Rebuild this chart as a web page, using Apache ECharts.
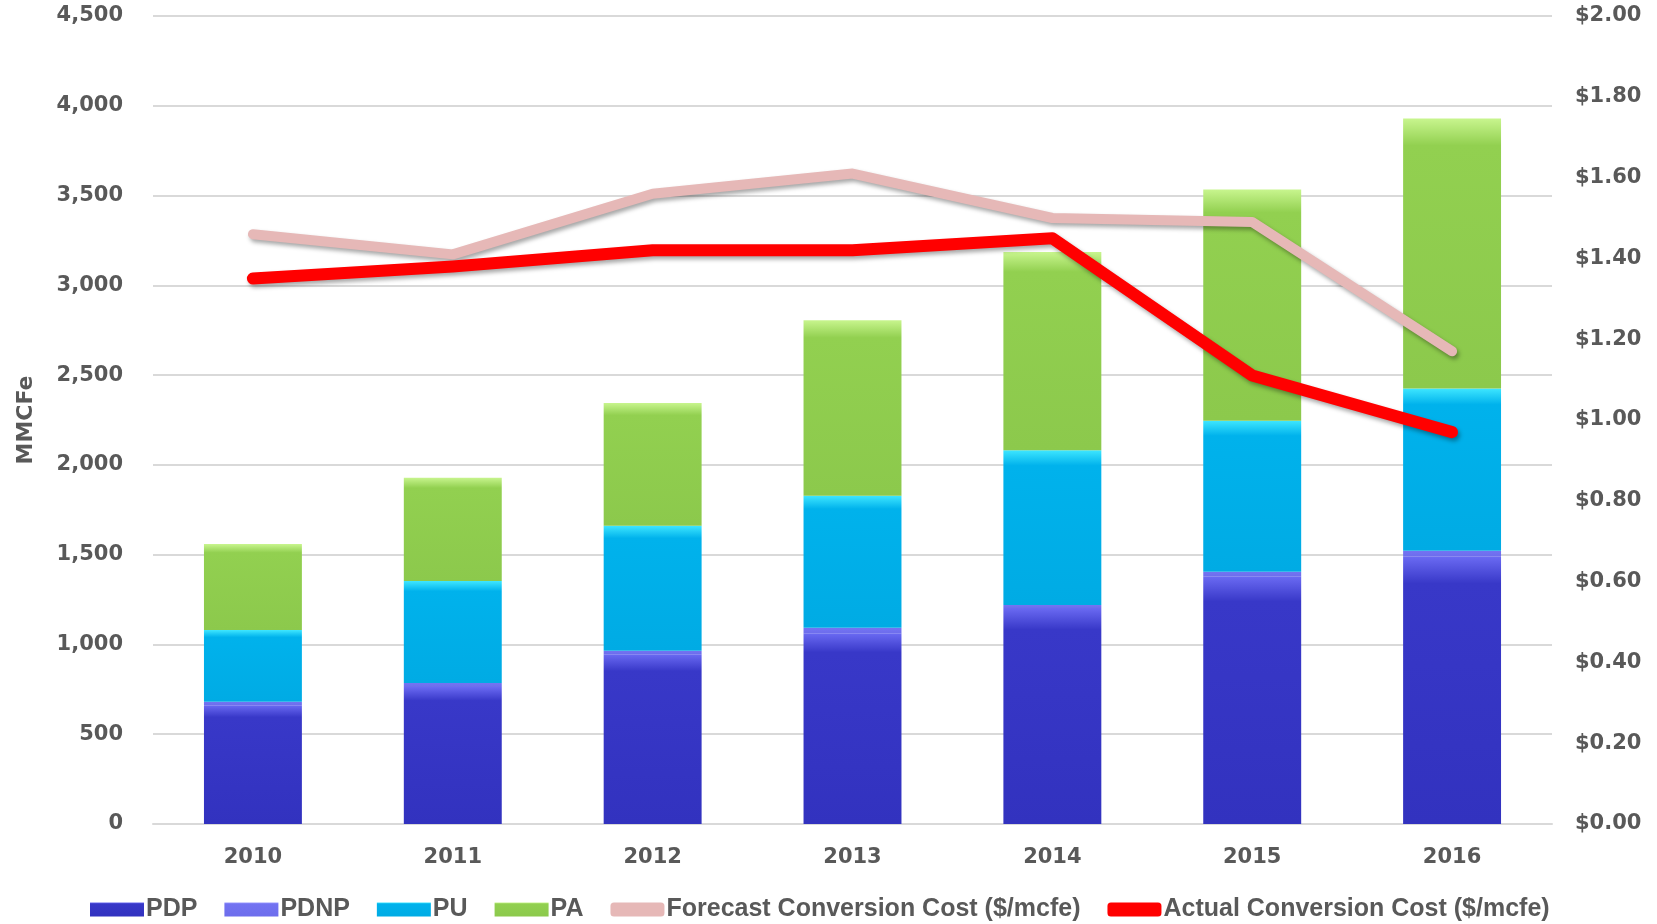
<!DOCTYPE html>
<html>
<head>
<meta charset="utf-8">
<script src="https://cdn.jsdelivr.net/npm/echarts@6/dist/echarts.min.js"></script>
<style>
  html, body { margin: 0; padding: 0; background: #fff; }
  #chart { width: 1657px; height: 924px; }
</style>
</head>
<body>
<div id="chart"></div>
<script>
// reserves by category, MMCFe (stacked)
const years = ['2010', '2011', '2012', '2013', '2014', '2015', '2016']
const pdp = [661, 763, 946, 1062, 1203, 1377, 1488]
const pdnp = [20, 22, 19, 31, 16, 28, 34]
const pu = [399, 568, 696, 735, 863, 841, 904]
const pa = [479, 576, 684, 978, 1103, 1288, 1503]
// conversion cost, $/mcfe (right axis)
const forecastCost = [1.46, 1.41, 1.56, 1.61, 1.50, 1.49, 1.17]
const actualCost = [1.35, 1.38, 1.42, 1.42, 1.45, 1.11, 0.97]

const TEXT = '#595959'
const GRID = '#d9d9d9'

// top bevel highlight faked with a vertical gradient per segment
const bevel = (hi, base, dark) => new echarts.graphic.LinearGradient(0, 0, 0, 1, [
  { offset: 0, color: hi },
  { offset: 0.1, color: base },
  { offset: 1, color: dark },
])

const barSeries = (name, data, color) => ({
  name,
  type: 'bar',
  stack: 'reserves',
  barWidth: '49%',
  data,
  itemStyle: { color },
})

const lineSeries = (name, data, color, width) => ({
  name,
  type: 'line',
  yAxisIndex: 1,
  data,
  symbol: 'none',
  z: 5,
  itemStyle: { color },
  lineStyle: {
    color,
    width,
    cap: 'round',
    join: 'round',
    shadowColor: 'rgba(0,0,0,0.35)',
    shadowBlur: 4,
    shadowOffsetX: 2,
    shadowOffsetY: 3,
  },
})

const chart = echarts.init(document.getElementById('chart'))

chart.setOption({
  animation: false,
  grid: { left: 153, right: 105, top: 16, bottom: 100 },
  legend: {
    left: 90,
    top: 897,
    padding: 0,
    itemWidth: 54,
    itemHeight: 14,
    itemGap: 27,
    textStyle: { color: TEXT, fontFamily: 'Liberation Sans', fontWeight: 'bold', fontSize: 25, padding: [0, 0, 0, -3] },
    data: [
      { name: 'PDP', icon: 'rect' },
      { name: 'PDNP', icon: 'rect' },
      { name: 'PU', icon: 'rect' },
      { name: 'PA', icon: 'rect' },
      { name: 'Forecast Conversion Cost ($/mcfe)', icon: 'roundRect' },
      { name: 'Actual Conversion Cost ($/mcfe)', icon: 'roundRect' },
    ],
  },
  xAxis: {
    type: 'category',
    data: years,
    axisTick: { show: false },
    axisLine: { lineStyle: { color: GRID, width: 2 } },
    axisLabel: { color: TEXT, fontFamily: 'DejaVu Sans', fontWeight: 'bold', fontSize: 21, margin: 23 },
  },
  yAxis: [
    {
      type: 'value',
      min: 0,
      max: 4500,
      interval: 500,
      name: 'MMCFe',
      nameLocation: 'middle',
      nameGap: 116,
      nameRotate: 90,
      nameTextStyle: { color: TEXT, fontFamily: 'DejaVu Sans', fontWeight: 'bold', fontSize: 22 },
      axisLine: { show: false },
      axisTick: { show: false },
      axisLabel: {
        color: TEXT, fontFamily: 'DejaVu Sans', fontWeight: 'bold', fontSize: 21, margin: 30,
        formatter: v => v.toLocaleString('en-US'),
      },
      splitLine: { lineStyle: { color: GRID, width: 2 } },
    },
    {
      type: 'value',
      min: 0,
      max: 2,
      interval: 0.2,
      axisLine: { show: false },
      axisTick: { show: false },
      axisLabel: {
        color: TEXT, fontFamily: 'DejaVu Sans', fontWeight: 'bold', fontSize: 21, margin: 23,
        formatter: v => '$' + v.toFixed(2),
      },
      splitLine: { show: false },
    },
  ],
  series: [
    barSeries('PDP', pdp, bevel('#6a6af2', '#3838c8', '#3232bf')),
    barSeries('PDNP', pdnp, bevel('#9c9cff', '#7373f2', '#6d6dec')),
    barSeries('PU', pu, bevel('#3ee6ff', '#00b2ec', '#00abe4')),
    barSeries('PA', pa, bevel('#c8f58e', '#92d050', '#8cc94c')),
    lineSeries('Forecast Conversion Cost ($/mcfe)', forecastCost, '#e6b8b7', 10),
    lineSeries('Actual Conversion Cost ($/mcfe)', actualCost, '#ff0000', 12),
  ],
})
</script>
</body>
</html>
